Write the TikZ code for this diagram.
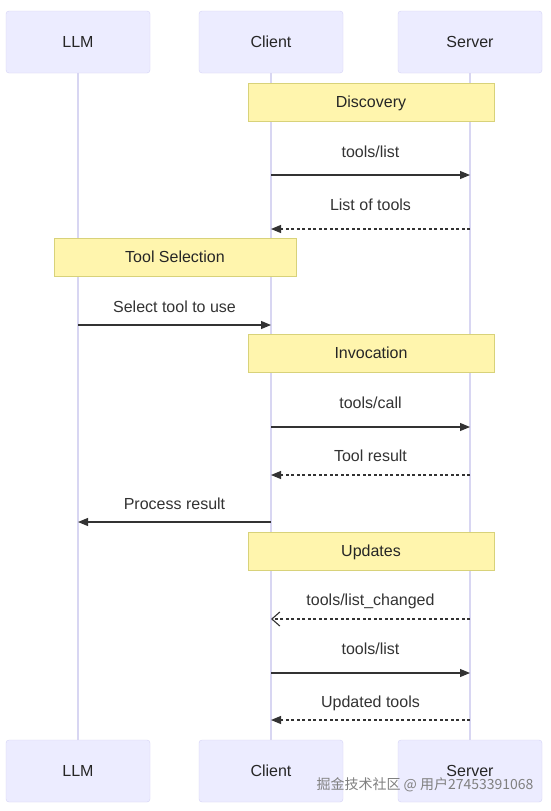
\documentclass[tikz,border=0pt]{standalone}
\usepackage{fontspec}
\setmainfont{Liberation Sans}
\newfontfamily\cjkfont{Noto Sans CJK SC}
\usetikzlibrary{arrows.meta}
\definecolor{actfill}{HTML}{ECECFF}
\definecolor{actdraw}{HTML}{D6D3F5}
\definecolor{lifecol}{HTML}{D8D6F2}
\definecolor{notefill}{HTML}{FFF5AD}
\definecolor{notedraw}{HTML}{D8D27A}
\definecolor{ink}{HTML}{333333}
\tikzset{
  actor/.style={draw=actdraw, fill=actfill, rounded corners=3pt, minimum width=144pt, minimum height=62pt, inner sep=0pt, font=\fontsize{16}{19}\selectfont, text=black!85, text height=11.5pt, text depth=0pt},
  notebox/.style={draw=notedraw, fill=notefill, minimum height=38pt, inner sep=0pt, font=\fontsize{16}{19}\selectfont, text=black!85, text height=11.5pt, text depth=0pt},
  life/.style={draw=lifecol, line width=1.3pt},
  msg/.style={draw=ink, line width=1.1pt, -{Triangle[length=10pt,width=8pt]}},
  reply/.style={draw=ink, line width=1.1pt, dash pattern=on 3pt off 2.5pt, -{Triangle[length=10pt,width=8pt]}},
  asyncmsg/.style={draw=ink, line width=1.1pt, dash pattern=on 3pt off 2.5pt, -{Straight Barb[length=8pt,width=14pt]}},
  lbl/.style={font=\fontsize{16}{19}\selectfont, text=black!80, inner sep=0pt}
}
\begin{document}
\begin{tikzpicture}[x=1pt,y=-1pt]
\useasboundingbox[fill=white] (0,0) rectangle (550,811);
% actors
\node[actor] (Ltop) at (78,42) {LLM};
\node[actor] (Ctop) at (271,42) {Client};
\node[actor] (Stop) at (470,42) {Server};
\node[actor] (Lbot) at (78,771) {LLM};
\node[actor] (Cbot) at (271,771) {Client};
\node[actor] (Sbot) at (470,771) {Server};
% lifelines
\draw[life] (Ltop.south) -- (Lbot.north);
\draw[life] (Ctop.south) -- (Cbot.north);
\draw[life] (Stop.south) -- (Sbot.north);
% notes
\node[notebox, minimum width=246pt] (n1) at (371,102) {Discovery};
\node[notebox, minimum width=242pt] (n2) at (175,257) {Tool Selection};
\node[notebox, minimum width=246pt] (n3) at (371,353) {Invocation};
\node[notebox, minimum width=246pt] (n4) at (371,551) {Updates};
% messages
\draw[msg] (Ctop.south |- 0,175) -- (Stop.south |- 0,175);
\node[lbl] (m1) at (370.5,152) {tools/list};
\draw[reply] (Stop.south |- 0,229) -- (Ctop.south |- 0,229);
\node[lbl] (m2) at (370.5,205) {List of tools};
\draw[msg] (Ltop.south |- 0,325) -- (Ctop.south |- 0,325);
\node[lbl] (m3) at (174.5,307) {Select tool to use};
\draw[msg] (Ctop.south |- 0,427) -- (Stop.south |- 0,427);
\node[lbl] (m4) at (370.5,403) {tools/call};
\draw[reply] (Stop.south |- 0,475) -- (Ctop.south |- 0,475);
\node[lbl] (m5) at (370.5,456) {Tool result};
\draw[msg] (Ctop.south |- 0,522) -- (Ltop.south |- 0,522);
\node[lbl] (m6) at (174.5,504) {Process result};
\draw[asyncmsg] (Stop.south |- 0,619) -- (Ctop.south |- 0,619);
\node[lbl] (m7) at (370.5,601) {tools/list\_changed};
\draw[msg] (Ctop.south |- 0,673) -- (Stop.south |- 0,673);
\node[lbl] (m8) at (370.5,649) {tools/list};
\draw[reply] (Stop.south |- 0,720) -- (Ctop.south |- 0,720);
\node[lbl] (m9) at (370.5,703) {Updated tools};
% watermark
\node[font=\cjkfont\fontsize{14}{16}\selectfont, text=black!50, inner sep=0pt] (wm) at (425,785) {掘金技术社区 @ 用户27453391068};
\end{tikzpicture}
\end{document}
